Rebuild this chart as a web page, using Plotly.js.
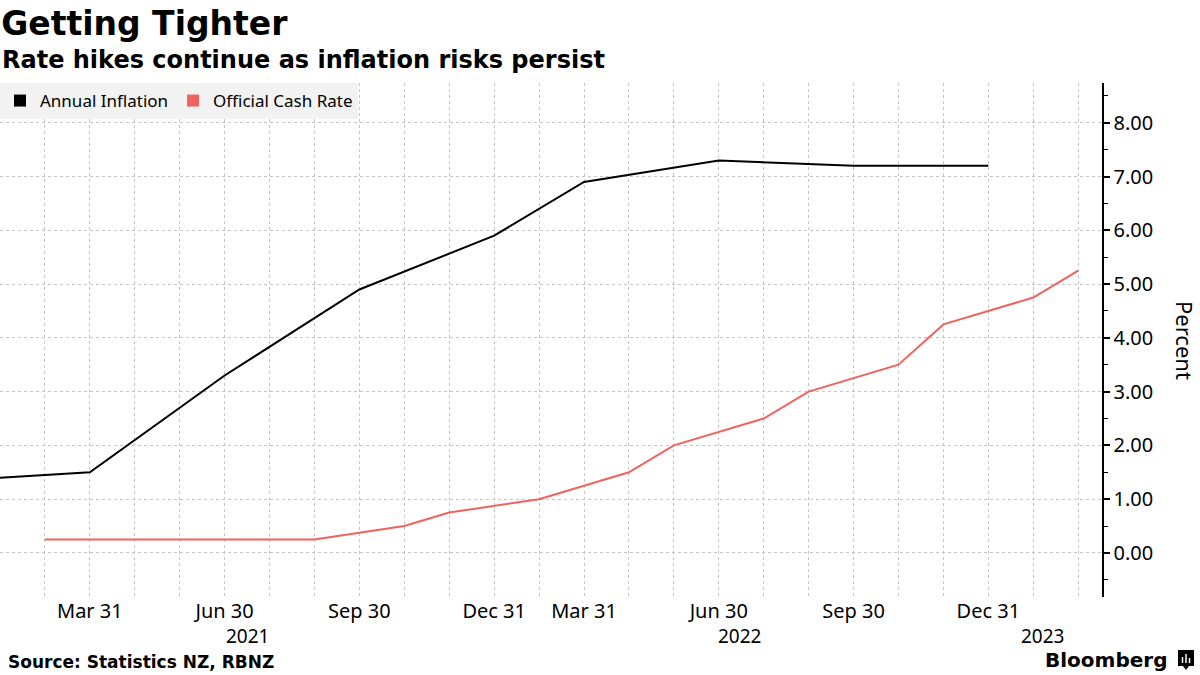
<!DOCTYPE html>
<html>
<head>
<meta charset="utf-8">
<script src="https://cdn.plot.ly/plotly-3.0.1.min.js"></script>
<style>
html,body{margin:0;padding:0;background:#fff;}
#chart{width:1200px;height:675px;}
</style>
</head>
<body>
<div id="chart"></div>
<script>
// ---- Data ----
const categories = ['2020-12-31','2021-02-24','2021-03-31','2021-04-14','2021-05-26','2021-06-30','2021-07-14','2021-08-18','2021-09-30','2021-10-06','2021-11-24','2021-12-31','2022-02-23','2022-03-31','2022-04-13','2022-05-25','2022-06-30','2022-07-13','2022-08-17','2022-09-30','2022-10-05','2022-11-23','2022-12-31','2023-02-22','2023-04-05'];
const tickLabels = ['', '', 'Mar 31', '', '', 'Jun 30', '', '', 'Sep 30', '', '', 'Dec 31', '', 'Mar 31', '', '', 'Jun 30', '', '', 'Sep 30', '', '', 'Dec 31', '', ''];
const inflationDates = ['2020-12-31','2021-03-31','2021-06-30','2021-09-30','2021-12-31','2022-03-31','2022-06-30','2022-09-30','2022-12-31'];
const inflationValues = [1.4, 1.5, 3.3, 4.9, 5.9, 6.9, 7.3, 7.2, 7.2];
const ocrDates = ['2021-02-24','2021-04-14','2021-05-26','2021-07-14','2021-08-18','2021-10-06','2021-11-24','2022-02-23','2022-04-13','2022-05-25','2022-07-13','2022-08-17','2022-10-05','2022-11-23','2023-02-22','2023-04-05'];
const ocrValues = [0.25, 0.25, 0.25, 0.25, 0.25, 0.5, 0.75, 1.0, 1.5, 2.0, 2.5, 3.0, 3.5, 4.25, 4.75, 5.25];
const yearLabels = ['2021', '2022', '2023'];
const yearPositions = [5.5, 16.45, 23.2];

// ---- Layout helpers ----
const L = 0, R = 98, T = 83, B = 78;
const PW = 1200 - L - R, PH = 675 - T - B;
const px = x => (x - L) / PW;
const py = y => (675 - B - y) / PH;

const BLACK = '#000000';
const RED = '#f0625f';
const FONT = 'Noto Sans, sans-serif';
const BOLD = 'DejaVu Sans, sans-serif';

const traces = [
  {x: inflationDates, y: inflationValues, type: 'scatter', mode: 'lines', name: 'Annual Inflation',
   line: {color: BLACK, width: 2}, showlegend: false, hoverinfo: 'skip'},
  {x: ocrDates, y: ocrValues, type: 'scatter', mode: 'lines', name: 'Official Cash Rate',
   line: {color: RED, width: 2}, showlegend: false, hoverinfo: 'skip'},
  {x: [null], y: [null], type: 'scatter', mode: 'markers', name: 'Annual Inflation',
   marker: {symbol: 'square', size: 12, color: BLACK}, showlegend: true},
  {x: [null], y: [null], type: 'scatter', mode: 'markers', name: 'Official Cash Rate',
   marker: {symbol: 'square', size: 12, color: RED}, showlegend: true}
];

const annotations = [
  {text: '<b>Rate hikes continue as inflation risks persist</b>', xref: 'paper', yref: 'paper',
   x: px(0), y: py(60), xanchor: 'left', yanchor: 'middle', showarrow: false,
   font: {family: BOLD, size: 24, color: BLACK}},
  {text: '<b>Source: Statistics NZ, RBNZ</b>', xref: 'paper', yref: 'paper',
   x: px(6), y: py(662), xanchor: 'left', yanchor: 'middle', showarrow: false,
   font: {family: BOLD, size: 17, color: BLACK}},
  {text: '<b>Bloomberg</b>', xref: 'paper', yref: 'paper',
   x: px(1169), y: py(660), xanchor: 'right', yanchor: 'middle', showarrow: false,
   font: {family: BOLD, size: 20, color: BLACK}},
  {text: 'Percent', xref: 'paper', yref: 'paper', x: px(1185), y: py(340),
   xanchor: 'center', yanchor: 'middle', textangle: 90, showarrow: false,
   font: {family: FONT, size: 22, color: BLACK}}
];
yearLabels.forEach((t, i) => annotations.push({
  text: t, xref: 'x', yref: 'paper', x: yearPositions[i], y: py(636),
  xanchor: 'center', yanchor: 'middle', showarrow: false,
  font: {family: FONT, size: 19, color: BLACK}
}));

const shapes = [
  {type: 'rect', xref: 'paper', yref: 'paper', x0: px(1178), x1: px(1194), y0: py(666), y1: py(650),
   fillcolor: BLACK, line: {width: 0}},
  {type: 'path', xref: 'paper', yref: 'paper',
   path: `M ${px(1183)} ${py(666)} L ${px(1186)} ${py(670)} L ${px(1189)} ${py(666)} Z`,
   fillcolor: BLACK, line: {width: 0}},
  {type: 'line', xref: 'paper', yref: 'paper', x0: px(1182.5), x1: px(1182.5), y0: py(663), y1: py(657), line: {color: '#fff', width: 1.5}},
  {type: 'line', xref: 'paper', yref: 'paper', x0: px(1186), x1: px(1186), y0: py(663), y1: py(654), line: {color: '#fff', width: 1.5}},
  {type: 'line', xref: 'paper', yref: 'paper', x0: px(1189.5), x1: px(1189.5), y0: py(663), y1: py(658), line: {color: '#fff', width: 1.5}}
];

const layout = {
  width: 1200, height: 675,
  margin: {l: L, r: R, t: T, b: B, pad: 0},
  paper_bgcolor: '#ffffff', plot_bgcolor: '#ffffff',
  font: {family: FONT, color: BLACK},
  title: {text: '<b>Getting Tighter</b>', x: 0.001, xref: 'container', xanchor: 'left',
          y: 1 - 23 / 675, yref: 'container', yanchor: 'middle',
          font: {family: BOLD, size: 33, color: BLACK}},
  showlegend: true,
  legend: {orientation: 'h', x: 0, y: 1, xanchor: 'left', yanchor: 'top',
           bgcolor: '#f2f2f2', borderwidth: 0, font: {family: FONT, size: 17, color: BLACK},
           itemwidth: 30, tracegroupgap: 0},
  xaxis: {type: 'category', categoryorder: 'array', categoryarray: categories,
          range: [0, 24.53], tickmode: 'array', tickvals: categories, ticktext: tickLabels,
          ticks: '', showgrid: true, gridcolor: '#c4c4c4', griddash: 'dot', gridwidth: 1,
          showline: false, zeroline: false, tickfont: {family: FONT, size: 20, color: BLACK},
          fixedrange: true},
  yaxis: {side: 'right', range: [-0.82, 8.74], tick0: 0, dtick: 1, tickformat: '.2f',
          showline: true, linecolor: BLACK, linewidth: 1.5, ticks: 'outside', ticklen: 6,
          tickwidth: 2, tickcolor: BLACK, showgrid: true, gridcolor: '#c4c4c4', griddash: 'dot',
          gridwidth: 1, zeroline: false, tickfont: {family: FONT, size: 20, color: BLACK},
          minor: {tick0: 0, dtick: 0.5, ticks: 'outside', ticklen: 4, tickcolor: BLACK, tickwidth: 1, showgrid: false},
          fixedrange: true},
  annotations: annotations,
  shapes: shapes
};

Plotly.newPlot('chart', traces, layout, {displayModeBar: false, staticPlot: true});
</script>
</body>
</html>
